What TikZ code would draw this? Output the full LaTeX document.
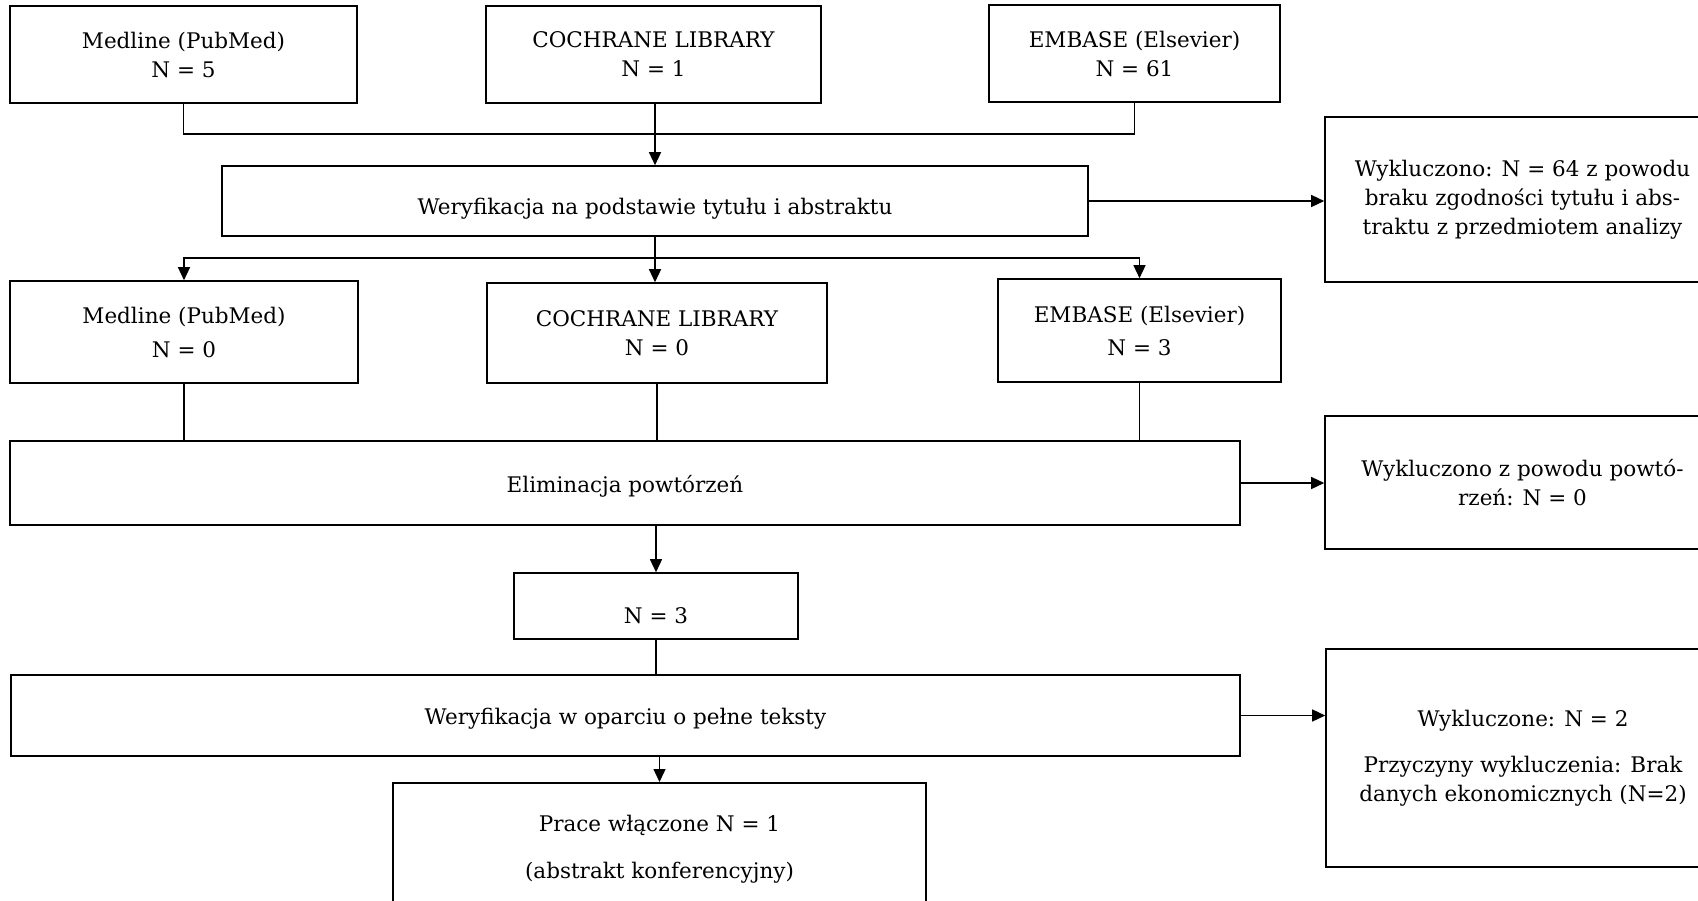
\documentclass[tikz,border=0pt]{standalone}
\usepackage{fontspec}
\setmainfont{DejaVu Serif}
\usetikzlibrary{arrows.meta}
\begin{document}
\begin{tikzpicture}[x=1pt,y=-1pt,
  box/.style={draw,line width=1.6pt,inner sep=0pt,align=center,
    font=\fontsize{21.5}{29}\selectfont},
  conn/.style={line width=1.4pt},
  arr/.style={conn,-{Triangle[length=13pt,width=12pt]}}]
\useasboundingbox (0,0) rectangle (1698,900);
\fill[white] (0,0) rectangle (1698,900);
% top row
\node[box,minimum width=347pt,minimum height=97pt] (m1) at (183.5,54.5) {Medline (PubMed)\\N = 5};
\node[box,minimum width=335pt,minimum height=97pt] (c1) at (653.5,54.5) {COCHRANE LIBRARY\\N = 1};
\node[box,minimum width=291pt,minimum height=97pt] (e1) at (1134.5,53.5) {EMBASE (Elsevier)\\N = 61};
% screening
\node[box,minimum width=866pt,minimum height=70pt] (v1) at (655,201) {\raisebox{-8pt}[\height][\depth]{Weryfikacja na podstawie tytułu i abstraktu}};
\node[box,minimum width=395pt,minimum height=165pt] (x1) at (1522.5,199.5) {Wykluczono: N = 64 z powodu\\braku zgodności tytułu i abs-\\traktu z przedmiotem analizy};
% second row
\node[box,minimum width=348pt,minimum height=102pt] (m2) at (184,332) {Medline (PubMed)\\[5pt]N = 0};
\node[box,minimum width=340pt,minimum height=100pt] (c2) at (657,333) {COCHRANE LIBRARY\\N = 0};
\node[box,minimum width=283pt,minimum height=103pt] (e2) at (1139.5,330.5) {EMBASE (Elsevier)\\[4pt]N = 3};
% duplicates
\node[box,minimum width=1230pt,minimum height=84pt] (el) at (625,483) {\raisebox{-3pt}[\height][\depth]{Eliminacja powtórzeń}};
\node[box,minimum width=395pt,minimum height=133pt] (x2) at (1522.5,482.5) {Wykluczono z powodu powtó-\\rzeń: N = 0};
\node[box,minimum width=284pt,minimum height=66pt] (n3) at (656,606) {\raisebox{-10pt}[\height][\depth]{N = 3}};
% full texts
\node[box,minimum width=1229pt,minimum height=81pt] (v2) at (625.5,715.5) {\raisebox{-3pt}[\height][\depth]{Weryfikacja w oparciu o pełne teksty}};
\node[box,minimum width=394pt,minimum height=218pt] (x3) at (1523,758) {Wykluczone: N = 2\\[17pt]Przyczyny wykluczenia: Brak\\danych ekonomicznych (N=2)};
\node[box,minimum width=533pt,anchor=north,inner ysep=32pt] (pr) at (659.5,782) {Prace włączone N = 1\\[18pt](abstrakt konferencyjny)};
% connectors
\coordinate (j1) at (655,134);
\draw[conn] (m1.south) |- (j1) -| (e1.south);
\draw[arr] (c1.south -| j1) -- (j1 |- v1.north);
\draw[arr] (v1.east) -- (v1.east -| x1.west);
\coordinate (j2) at (655,258);
\draw[conn] (v1.south -| j2) -- (j2);
\draw[arr] (j2) -| (m2.north);
\draw[arr] (j2) -| (e2.north);
\draw[arr] (j2) -- (j2 |- c2.north);
\draw[conn] (m2.south) -- (m2.south |- el.north);
\draw[conn] (c2.south) -- (c2.south |- el.north);
\draw[conn] (e2.south) -- (e2.south |- el.north);
\draw[arr] (el.east) -- (el.east -| x2.west);
\draw[arr] (n3.north |- el.south) -- (n3.north);
\draw[conn] (n3.south) -- (n3.south |- v2.north);
\draw[arr] (v2.east) -- (v2.east -| x3.west);
\draw[arr] (pr.north |- v2.south) -- (pr.north);
\end{tikzpicture}
\end{document}
